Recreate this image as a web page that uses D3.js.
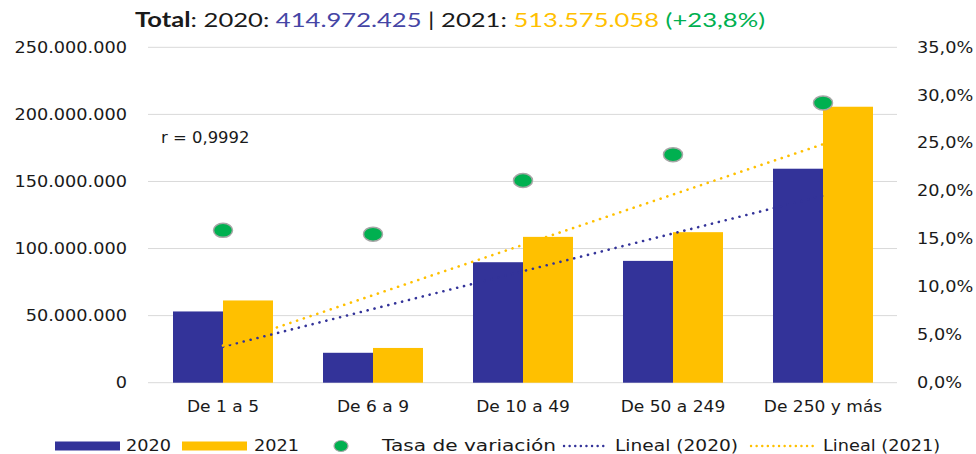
<!DOCTYPE html>
<html>
<head>
    <script src="https://d3js.org/d3.v7.min.js"></script>
    <style>
        body { margin: 0; background: #fff; }
        text { font-family: 'DejaVu Sans', Verdana, sans-serif; fill: #1a1a1a; }
    </style>
</head>
<body>
    <div id="container"></div>
    <script>
        // data
        const categories = ["De 1 a 5", "De 6 a 9", "De 10 a 49", "De 50 a 249", "De 250 y más"];
        const series = ["2020", "2021"];
        const values2020 = [53.1e6, 22.3e6, 89.8e6, 90.8e6, 159.5e6];
        const values2021 = [61.3e6, 25.9e6, 108.7e6, 112.2e6, 205.7e6];
        const rates = [0.159, 0.155, 0.211, 0.238, 0.292];
        const leftTicks = [0, 50e6, 100e6, 150e6, 200e6, 250e6];
        const rightTicks = [0, 0.05, 0.10, 0.15, 0.20, 0.25, 0.30, 0.35];
        const totals = ["414.972.425", "513.575.058", "+23,8%"];
        const rLabel = "r = 0,9992";

        const colors = { "2020": "#333399", "2021": "#FFC000", rate: "#00B050" };

        const width = 976;
        const height = 454;
        const stretch = 1.18;

        const locale = d3.formatLocale({ decimal: ",", thousands: ".", grouping: [3], currency: ["", "€"] });
        const fmtNum = locale.format(",");
        const fmtPct = locale.format(".1%");

        const svg = d3.select("#container")
            .append("svg")
            .attr("width", width)
            .attr("height", height);

        // widen text horizontally (the reference is drawn a bit stretched)
        function widen(sel, k) {
            sel.each(function () {
                const w = this.getComputedTextLength();
                d3.select(this).attr("textLength", w * k).attr("lengthAdjust", "spacingAndGlyphs");
            });
        }

        const x = d3.scaleBand().domain(categories).range([148, 898]).paddingInner(1 / 3).paddingOuter(1 / 6);
        const xs = d3.scaleBand().domain(series).range([0, x.bandwidth()]);
        const y = d3.scaleLinear().domain([0, 250e6]).range([382.7, 47.3]);
        const y2 = d3.scaleLinear().domain([0, 0.35]).range([382.7, 47.3]);

        // gridlines
        svg.append("g")
            .selectAll("line")
            .data(leftTicks)
            .join("line")
            .attr("x1", 148).attr("x2", 897)
            .attr("y1", d => y(d)).attr("y2", d => y(d))
            .attr("stroke", "#d9d9d9")
            .attr("stroke-width", 1);

        // left axis
        const gl = svg.append("g")
            .attr("transform", "translate(127,0)")
            .call(d3.axisLeft(y).tickValues(leftTicks).tickFormat(fmtNum).tickSize(0).tickPadding(0));
        gl.select(".domain").remove();
        gl.selectAll("text").attr("font-size", 15).attr("font-family", "'DejaVu Sans'").attr("fill", "#1a1a1a");
        widen(gl.selectAll("text"), stretch);

        // right axis
        const gr = svg.append("g")
            .attr("transform", "translate(917,0)")
            .call(d3.axisRight(y2).tickValues(rightTicks).tickFormat(fmtPct).tickSize(0).tickPadding(0));
        gr.select(".domain").remove();
        gr.selectAll("text").attr("font-size", 15).attr("font-family", "'DejaVu Sans'").attr("fill", "#1a1a1a");
        widen(gr.selectAll("text"), stretch);

        // category axis
        const gx = svg.append("g")
            .attr("transform", "translate(0,382.7)")
            .call(d3.axisBottom(x).tickSize(0).tickPadding(0));
        gx.select(".domain").remove();
        gx.selectAll("text").attr("font-size", 15.5).attr("font-family", "'DejaVu Sans'")
            .attr("fill", "#1a1a1a").attr("dy", null).attr("y", 29);
        widen(gx.selectAll("text"), 1.1);

        // bars
        const barData = [];
        categories.forEach((c, i) => {
            barData.push({ cat: c, s: "2020", v: values2020[i] });
            barData.push({ cat: c, s: "2021", v: values2021[i] });
        });
        svg.append("g")
            .selectAll("rect")
            .data(barData)
            .join("rect")
            .attr("x", d => x(d.cat) + xs(d.s))
            .attr("y", d => y(d.v))
            .attr("width", xs.bandwidth())
            .attr("height", d => y(0) - y(d.v))
            .attr("fill", d => colors[d.s]);

        // linear trend lines
        function fit(vals) {
            const n = vals.length;
            const xm = (n + 1) / 2;
            const ym = d3.mean(vals);
            let sxy = 0, sxx = 0;
            vals.forEach((v, i) => { sxy += (i + 1 - xm) * (v - ym); sxx += (i + 1 - xm) ** 2; });
            const b = sxy / sxx;
            return t => ym + b * (t - xm);
        }
        const cx = c => x(c) + x.bandwidth() / 2;
        [[values2020, "2020"], [values2021, "2021"]].forEach(([vals, s]) => {
            const f = fit(vals);
            const n = vals.length;
            svg.append("line")
                .attr("x1", cx(categories[0])).attr("y1", y(f(1)))
                .attr("x2", cx(categories[n - 1])).attr("y2", y(f(n)))
                .attr("stroke", colors[s])
                .attr("stroke-width", 2.6)
                .attr("stroke-linecap", "round")
                .attr("stroke-dasharray", "0.1 7");
        });

        // rate markers
        svg.append("g")
            .selectAll("ellipse")
            .data(rates)
            .join("ellipse")
            .attr("cx", (d, i) => cx(categories[i]))
            .attr("cy", d => y2(d))
            .attr("rx", 9.5).attr("ry", 7)
            .attr("fill", colors.rate)
            .attr("stroke", "#a6a6a6")
            .attr("stroke-width", 1.5);

        // r label
        const rt = svg.append("text")
            .attr("x", 161).attr("y", 142.5)
            .attr("font-size", 15.5)
            .text(rLabel);
        widen(rt, 1.06);

        // title
        const title = svg.append("text")
            .attr("x", 135).attr("y", 27)
            .attr("font-size", 20)
            .style("font-family", "Lato, 'Open Sans', sans-serif");
        title.append("tspan").attr("font-weight", "bold").text("Total");
        title.append("tspan").text(": 2020: ");
        title.append("tspan").attr("fill", "#4545a5").text(totals[0]);
        title.append("tspan").text(" | 2021: ");
        title.append("tspan").attr("fill", colors["2021"]).text(totals[1]);
        title.append("tspan").attr("fill", colors.rate).text(" (" + totals[2] + ")");
        title.attr("textLength", 630).attr("lengthAdjust", "spacingAndGlyphs");

        // legend
        const leg = svg.append("g");
        const ly = 446;
        function legText(xp, t, k) {
            const el = leg.append("text").attr("x", xp).attr("y", ly).attr("dy", "0.35em")
                .attr("font-size", 15).text(t);
            widen(el, k);
        }
        leg.append("rect").attr("x", 55).attr("y", ly - 4.5).attr("width", 65).attr("height", 9).attr("fill", colors["2020"]);
        legText(126, series[0], stretch);
        leg.append("rect").attr("x", 182).attr("y", ly - 4.5).attr("width", 65).attr("height", 9).attr("fill", colors["2021"]);
        legText(254, series[1], stretch);
        leg.append("ellipse").attr("cx", 341).attr("cy", ly).attr("rx", 7).attr("ry", 5.5)
            .attr("fill", colors.rate).attr("stroke", "#a6a6a6").attr("stroke-width", 1.2);
        legText(382, "Tasa de variación", 1.34);
        leg.append("line").attr("x1", 564).attr("x2", 608).attr("y1", ly).attr("y2", ly)
            .attr("stroke", colors["2020"]).attr("stroke-width", 2.4).attr("stroke-linecap", "round").attr("stroke-dasharray", "0.1 5.5");
        legText(615, "Lineal (2020)", 1.24);
        leg.append("line").attr("x1", 751).attr("x2", 813).attr("y1", ly).attr("y2", ly)
            .attr("stroke", colors["2021"]).attr("stroke-width", 2.4).attr("stroke-linecap", "round").attr("stroke-dasharray", "0.1 5.5");
        legText(823, "Lineal (2021)", stretch);
    </script>
</body>
</html>
